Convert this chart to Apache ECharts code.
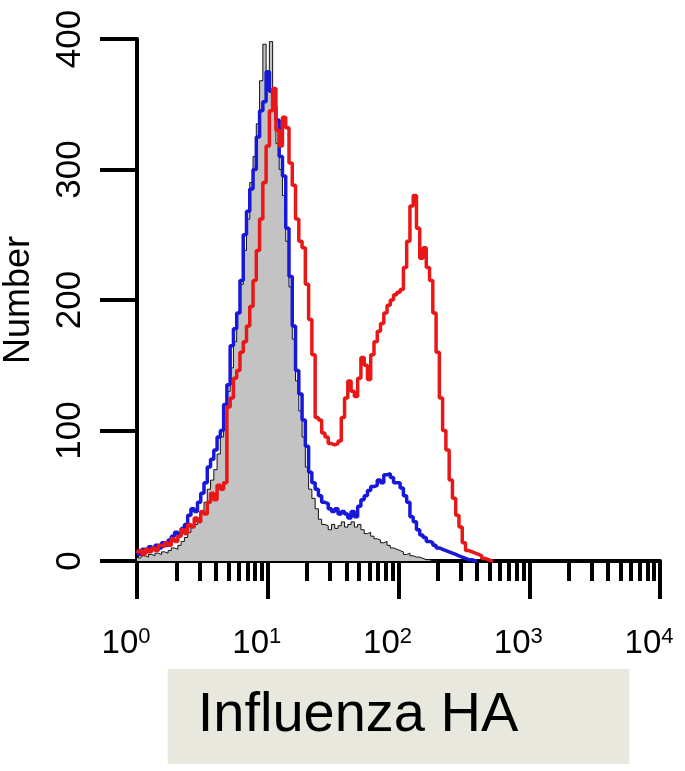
<!DOCTYPE html>
<html>
<head>
<meta charset="utf-8">
<script src="https://cdn.jsdelivr.net/npm/echarts@6/dist/echarts.min.js"></script>
<style>
html,body{margin:0;padding:0;background:#fff;}
#chart{width:685px;height:771px;}
</style>
</head>
<body>
<div id="chart"></div>
<script>
// Histogram bins on a log10 fluorescence scale (bin i sits at log10 = i * binStep)
const binStep = 0.025;

// Isotype / unstained control (gray filled)
const grayControl = [
  3,2,4,3,5,4,6,5,7,6,
  8,10,9,12,15,18,22,26,28,32,
  38,45,55,62,70,82,95,110,130,148,
  168,190,212,238,262,290,310,335,368,396,
  375,398,355,320,300,280,245,210,170,138,
  115,95,72,55,48,40,32,28,27,24,
  28,25,27,30,26,28,30,26,28,24,
  21,22,19,17,16,14,15,12,10,9,
  8,7,5,6,4,3,3,2,1,1,
  0,0,0
];

// Blue sample
const blueSample = [
  8,5,9,7,11,9,12,10,14,12,
  16,19,22,20,25,28,35,40,38,45,
  52,60,72,78,85,95,100,120,135,165,
  178,190,215,250,268,285,300,325,345,352,
  375,360,348,338,310,295,255,218,180,146,
  128,108,88,68,60,55,50,45,44,40,
  38,40,36,38,36,33,38,34,42,47,
  50,54,57,58,62,60,66,67,64,60,
  60,56,50,45,34,30,24,20,18,15,
  14,12,10,9,8,7,6,5,4,3,
  2,1,1,0,0
];

// Red sample (HA positive)
const redSample = [
  6,8,5,9,7,10,8,12,11,14,
  12,17,15,19,24,21,28,26,33,30,
  38,36,45,52,47,58,55,60,118,125,
  140,146,160,168,180,195,215,238,262,290,
  318,345,362,330,318,340,332,305,288,262,
  245,240,212,185,158,110,108,98,95,90,
  89,90,92,110,125,138,130,126,140,156,
  150,139,158,168,176,182,190,196,200,204,
  206,208,225,245,272,280,255,232,240,225,
  215,190,160,125,100,85,62,48,35,26,
  14,8,7,6,5,4,2,1,0,0
];

const yTickValues = [0, 100, 200, 300, 400];
const decadeExponents = ['0', '1', '2', '3', '4'];
const minorMantissas = [2, 3, 4, 5, 6, 7, 8, 9];

const toPoints = arr => arr.map((v, i) => [i * binStep, v]);
const minorTickValues = [];
for (let d = 0; d < 4; d++) {
  minorMantissas.forEach(m => minorTickValues.push(d + Math.log10(m)));
}

const FONT = '"Liberation Sans", Arial, sans-serif';
const chart = echarts.init(document.getElementById('chart'));

chart.setOption({
  animation: false,
  backgroundColor: '#ffffff',
  grid: { left: 137, right: 25, top: 39, bottom: 210, containLabel: false, outerBoundsMode: 'none' },
  xAxis: [
    {
      type: 'value', min: 0, max: 4, position: 'bottom',
      axisLine: { show: true, lineStyle: { color: '#000', width: 4 } },
      axisTick: { show: true, inside: false, length: 20, lineStyle: { color: '#000', width: 4 },
                  customValues: minorTickValues },
      axisLabel: { show: false },
      splitLine: { show: false }
    },
    {
      type: 'value', min: 0, max: 4, interval: 1, position: 'bottom',
      axisLine: { show: false },
      axisTick: { show: true, inside: false, length: 38, lineStyle: { color: '#000', width: 4 } },
      axisLabel: {
        show: true, margin: 65, padding: [0, 22, 0, 0],
        formatter: v => '{b|10}{s|' + decadeExponents[Math.round(v)] + '}',
        rich: {
          b: { fontFamily: FONT, fontSize: 33, lineHeight: 36, color: '#000' },
          s: { fontFamily: FONT, fontSize: 22, lineHeight: 36, color: '#000', verticalAlign: 'top' }
        }
      },
      splitLine: { show: false },
      name: 'Influenza HA',
      nameLocation: 'middle',
      nameGap: 108,
      nameTextStyle: {
        fontFamily: FONT, fontSize: 56, color: '#000', lineHeight: 60,
        backgroundColor: '#e9e8df', padding: [17, 111, 18, 30]
      }
    }
  ],
  yAxis: {
    type: 'value', min: 0, max: 400, interval: 100,
    axisLine: { show: true, lineStyle: { color: '#000', width: 4 } },
    axisTick: { show: true, inside: false, length: 37, lineStyle: { color: '#000', width: 4 } },
    axisLabel: {
      show: true, rotate: 90, margin: 67, verticalAlign: 'middle', align: 'center',
      fontFamily: FONT, fontSize: 35, color: '#000',
      formatter: v => yTickValues.includes(v) ? String(v) : ''
    },
    splitLine: { show: false },
    name: 'Number',
    nameLocation: 'middle',
    nameRotate: 90,
    nameGap: 100,
    nameTextStyle: { fontFamily: FONT, fontSize: 36, color: '#000' }
  },
  series: [
    {
      name: 'Control', type: 'line', step: 'middle', symbol: 'none', z: 1,
      data: toPoints(grayControl),
      lineStyle: { color: '#111', width: 1 },
      areaStyle: { color: '#c3c3c3', opacity: 1 }
    },
    {
      name: 'Blue', type: 'line', step: 'middle', symbol: 'none', z: 2,
      data: toPoints(blueSample),
      lineStyle: { color: '#1818d8', width: 3.5 }
    },
    {
      name: 'Red', type: 'line', step: 'middle', symbol: 'none', z: 3,
      data: toPoints(redSample),
      lineStyle: { color: '#e81818', width: 3.5 }
    }
  ]
});
</script>
</body>
</html>
